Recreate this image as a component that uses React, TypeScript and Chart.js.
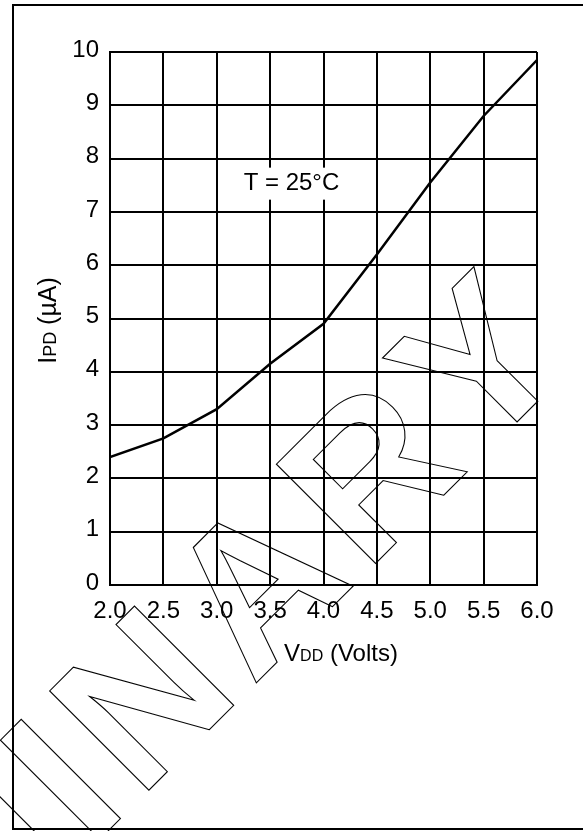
import React, { useEffect, useRef } from 'react';
import { Chart, registerables } from 'chart.js';

Chart.register(...registerables);

// ---- data ----
const vdd = [2.0, 2.5, 3.0, 3.5, 4.0, 4.5, 5.0, 5.5, 6.0];
const ipd = [2.4, 2.75, 3.3, 4.15, 4.9, 6.2, 7.55, 8.8, 9.85];
const xTickLabels = ['2.0', '2.5', '3.0', '3.5', '4.0', '4.5', '5.0', '5.5', '6.0'];
const yTickLabels = ['0', '1', '2', '3', '4', '5', '6', '7', '8', '9', '10'];
const annotationText = 'T = 25°C';
const annotationAt = { x: 3.7, y: 7.53 };
const watermarkText = 'PRELIMINARY';

const FONT = '"Liberation Sans", Arial, Helvetica, sans-serif';
const BIG = 24;
const SMALL = 16;

type Part = [string, number];

function drawMixed(ctx: CanvasRenderingContext2D, parts: Part[], cx: number, cy: number) {
  let total = 0;
  const widths: number[] = [];
  for (const [t, s] of parts) {
    ctx.font = `${s}px ${FONT}`;
    const w = ctx.measureText(t).width;
    widths.push(w);
    total += w;
  }
  let x = cx - total / 2;
  ctx.textAlign = 'left';
  ctx.textBaseline = 'alphabetic';
  parts.forEach(([t, s], i) => {
    ctx.font = `${s}px ${FONT}`;
    ctx.fillText(t, x, cy);
    x += widths[i];
  });
}

const decorPlugin = {
  id: 'decor',
  afterDraw(chart: any) {
    const ctx: CanvasRenderingContext2D = chart.ctx;
    const xs = chart.scales.x;
    const ys = chart.scales.y;
    ctx.save();
    ctx.fillStyle = '#000';
    ctx.strokeStyle = '#000';

    // outer frame
    ctx.lineWidth = 2;
    ctx.strokeRect(13, 5, 600, 824);

    // annotation with white background
    const px = xs.getPixelForValue(annotationAt.x);
    const py = ys.getPixelForValue(annotationAt.y);
    ctx.font = `${BIG}px ${FONT}`;
    const w = ctx.measureText(annotationText).width;
    ctx.fillStyle = '#fff';
    ctx.fillRect(px - w / 2 - 8, py - 16, w + 16, 32);
    ctx.fillStyle = '#000';
    ctx.textAlign = 'center';
    ctx.textBaseline = 'middle';
    ctx.fillText(annotationText, px, py);

    // x title
    drawMixed(ctx, [['V', BIG], ['DD', SMALL], [' (Volts)', BIG]], 341, 661);

    // y title (rotated)
    ctx.save();
    ctx.translate(56, (chart.chartArea.top + chart.chartArea.bottom) / 2 + 2);
    ctx.rotate(-Math.PI / 2);
    drawMixed(ctx, [['I', 25], ['PD', 18], [' (µA)', 25]], 0, 0);
    ctx.restore();

    // watermark outline, letter by letter along a -45° baseline
    const uEnd = 150;
    const nBase = 664;
    const c = Math.SQRT1_2;
    ctx.save();
    ctx.translate(c * (uEnd + nBase), c * (nBase - uEnd));
    ctx.rotate(-Math.PI / 4);
    ctx.font = `bold 204px ${FONT}`;
    ctx.textAlign = 'left';
    ctx.textBaseline = 'alphabetic';
    ctx.lineWidth = 1.1;
    const spacing = 13;
    let u = 0;
    for (let i = watermarkText.length - 1; i >= 0; i--) {
      const ch = watermarkText[i];
      const cw = ctx.measureText(ch).width;
      u -= cw;
      ctx.strokeText(ch, u, 0);
      u -= spacing;
    }
    ctx.restore();

    ctx.restore();
  },
};

export default function App() {
  const ref = useRef<HTMLCanvasElement>(null);

  useEffect(() => {
    document.body.style.margin = '0';
    const canvas = ref.current!;
    const chart = new Chart(canvas, {
      type: 'line',
      data: {
        datasets: [
          {
            data: vdd.map((v, i) => ({ x: v, y: ipd[i] })),
            borderColor: '#000',
            borderWidth: 2.5,
            pointRadius: 0,
            tension: 0,
            fill: false,
          },
        ],
      },
      options: {
        animation: false,
        responsive: false,
        devicePixelRatio: 1,
        layout: { padding: { left: 0, top: 52, right: 46, bottom: 206 } },
        plugins: { legend: { display: false }, tooltip: { enabled: false } },
        scales: {
          x: {
            type: 'linear',
            min: 2,
            max: 6,
            afterFit: (s: any) => {
              s.height = 40;
            },
            ticks: {
              stepSize: 0.5,
              color: '#000',
              font: { family: FONT, size: BIG },
              padding: 12,
              maxRotation: 0,
              autoSkip: false,
              callback: (_v: any, i: number) => xTickLabels[i],
            },
            grid: { color: '#000', lineWidth: 2, drawTicks: false },
            border: { color: '#000', width: 2 },
          },
          y: {
            type: 'linear',
            min: 0,
            max: 10,
            afterFit: (s: any) => {
              s.width = 110;
            },
            ticks: {
              stepSize: 1,
              color: '#000',
              font: { family: FONT, size: BIG },
              padding: 11,
              labelOffset: -2,
              autoSkip: false,
              callback: (_v: any, i: number) => yTickLabels[i],
            },
            grid: { color: '#000', lineWidth: 2, drawTicks: false },
            border: { color: '#000', width: 2 },
          },
        },
      },
      plugins: [decorPlugin],
    });
    return () => chart.destroy();
  }, []);

  return (
    <div style={{ position: 'absolute', left: 0, top: 0, width: 583, height: 831, background: '#fff' }}>
      <canvas ref={ref} width={583} height={831} style={{ display: 'block', width: 583, height: 831 }} />
    </div>
  );
}
